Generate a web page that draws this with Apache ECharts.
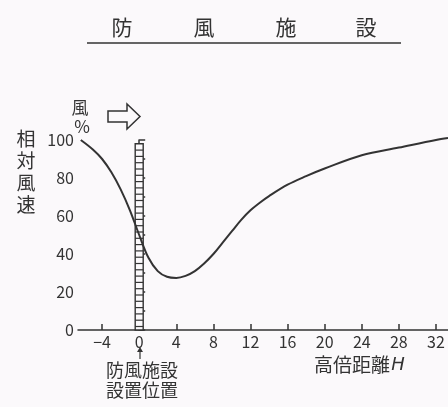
<!DOCTYPE html>
<html><head><meta charset="utf-8">
<script src="https://cdn.jsdelivr.net/npm/echarts@6/dist/echarts.min.js"></script>
<style>html,body{margin:0;padding:0;background:#fbf9fb;}#c{width:448px;height:407px;}</style>
</head><body><div id="c"></div>
<script>
const xTicks = [-4, 0, 4, 8, 12, 16, 20, 24, 28, 32];
const yLabels = [0, 20, 40, 60, 80, 100];
const yTicks = [0, 10, 20, 30, 40, 50, 60, 70, 80, 90, 100];
const distH = [-6.3, -5, -4, -3, -2, -1, 0, 1, 2, 3, 4, 5, 6, 7, 8, 9, 10, 11, 12, 13, 14, 16, 18, 20, 24, 28, 32, 33.3];
const windPct = [100, 95, 90, 83, 74, 63, 50, 38, 31, 28, 27.4, 28.5, 31, 35, 40, 46, 52, 58, 63, 67, 70.5, 76.5, 81, 85, 92, 96, 100, 101];
const fencePos = [0];
const fenceHeight = [98];

const font = '"Noto Sans CJK JP", "DejaVu Sans", sans-serif';
const ink = '#333';
const bg = '#fbf9fb';
const chart = echarts.init(document.getElementById('c'));
chart.setOption({
  backgroundColor: bg,
  animation: false,
  grid: {left: 78, right: 0, top: 140, bottom: 77},
  xAxis: {
    type: 'value', min: -6.6, max: 33.3,
    axisLine: {lineStyle: {color: ink, width: 1.5}},
    axisTick: {inside: true, length: 6, lineStyle: {color: ink, width: 1.5}, customValues: xTicks},
    axisLabel: {customValues: xTicks, color: ink, fontSize: 16, fontFamily: font, margin: 4,
      formatter: v => v < 0 ? '\u2212' + Math.abs(v) : String(v)},
    splitLine: {show: false}
  },
  yAxis: {
    type: 'value', min: 0, max: 100,
    axisLine: {show: true, lineStyle: {color: ink, width: 1.5}},
    axisTick: {show: true, inside: true, length: 6, lineStyle: {color: ink, width: 1.5}, customValues: yTicks},
    axisLabel: {customValues: yLabels, color: ink, fontSize: 16, fontFamily: font, margin: 4},
    splitLine: {show: false}
  },
  series: [
    {
      type: 'custom',
      data: fencePos.map((x, i) => [x, fenceHeight[i]]),
      renderItem: function (params, api) {
        const top = api.coord([api.value(0), api.value(1)]);
        const base = api.coord([api.value(0), 0]);
        const w = 8;
        const children = [{type: 'rect', shape: {x: top[0] - w / 2, y: top[1], width: w, height: base[1] - top[1]},
          style: {fill: bg, stroke: ink, lineWidth: 1.4}}];
        for (let y = top[1] + 6.3; y < base[1] - 2; y += 6.3) {
          children.push({type: 'line', shape: {x1: top[0] - w / 2, y1: y, x2: top[0] + w / 2, y2: y},
            style: {stroke: ink, lineWidth: 1.2}});
        }
        return {type: 'group', children: children};
      },
      z: 2
    },
    {
      type: 'line', smooth: 0.35, showSymbol: false, clip: false,
      data: distH.map((x, i) => [x, windPct[i]]),
      lineStyle: {color: ink, width: 2}, z: 3
    }
  ],
  graphic: [
    {type: 'text', x: 122, y: 27, style: {text: '防', font: '21px ' + font, fill: ink, align: 'center', verticalAlign: 'middle'}},
    {type: 'text', x: 204, y: 27, style: {text: '風', font: '21px ' + font, fill: ink, align: 'center', verticalAlign: 'middle'}},
    {type: 'text', x: 286, y: 27, style: {text: '施', font: '21px ' + font, fill: ink, align: 'center', verticalAlign: 'middle'}},
    {type: 'text', x: 366, y: 27, style: {text: '設', font: '21px ' + font, fill: ink, align: 'center', verticalAlign: 'middle'}},
    {type: 'line', shape: {x1: 87, y1: 43, x2: 401, y2: 43}, style: {stroke: ink, lineWidth: 1.5}},
    {type: 'text', x: 26, y: 172, style: {text: '相\n対\n風\n速', font: '19px ' + font, lineHeight: 22, fill: ink, align: 'center', verticalAlign: 'middle'}},
    {type: 'text', x: 80, y: 108, style: {text: '風', font: '17px ' + font, fill: ink, align: 'center', verticalAlign: 'middle'}},
    {type: 'text', x: 82, y: 127, style: {text: '%', font: '17px ' + font, fill: ink, align: 'center', verticalAlign: 'middle'}},
    {type: 'polygon', shape: {points: [[108, 111], [127, 111], [127, 104], [140, 116.5], [127, 129], [127, 122], [108, 122]]}, style: {fill: 'none', stroke: ink, lineWidth: 1.5}},
    {type: 'line', shape: {x1: 140, y1: 359, x2: 140, y2: 351}, style: {stroke: ink, lineWidth: 1.2}},
    {type: 'polygon', shape: {points: [[137, 352], [143, 352], [140, 347]]}, style: {fill: ink}},
    {type: 'text', x: 142, y: 370, style: {text: '防風施設', font: '18px ' + font, fill: ink, align: 'center', verticalAlign: 'middle'}},
    {type: 'text', x: 352, y: 365, style: {text: '高倍距離', font: '19px ' + font, fill: ink, align: 'center', verticalAlign: 'middle'}},
    {type: 'text', x: 142, y: 390, style: {text: '設置位置', font: '18px ' + font, fill: ink, align: 'center', verticalAlign: 'middle'}},
    {type: 'text', x: 398, y: 365, style: {text: 'H', font: 'italic 18px "DejaVu Sans", sans-serif', fill: ink, align: 'center', verticalAlign: 'middle'}}
  ]
});
</script></body></html>
